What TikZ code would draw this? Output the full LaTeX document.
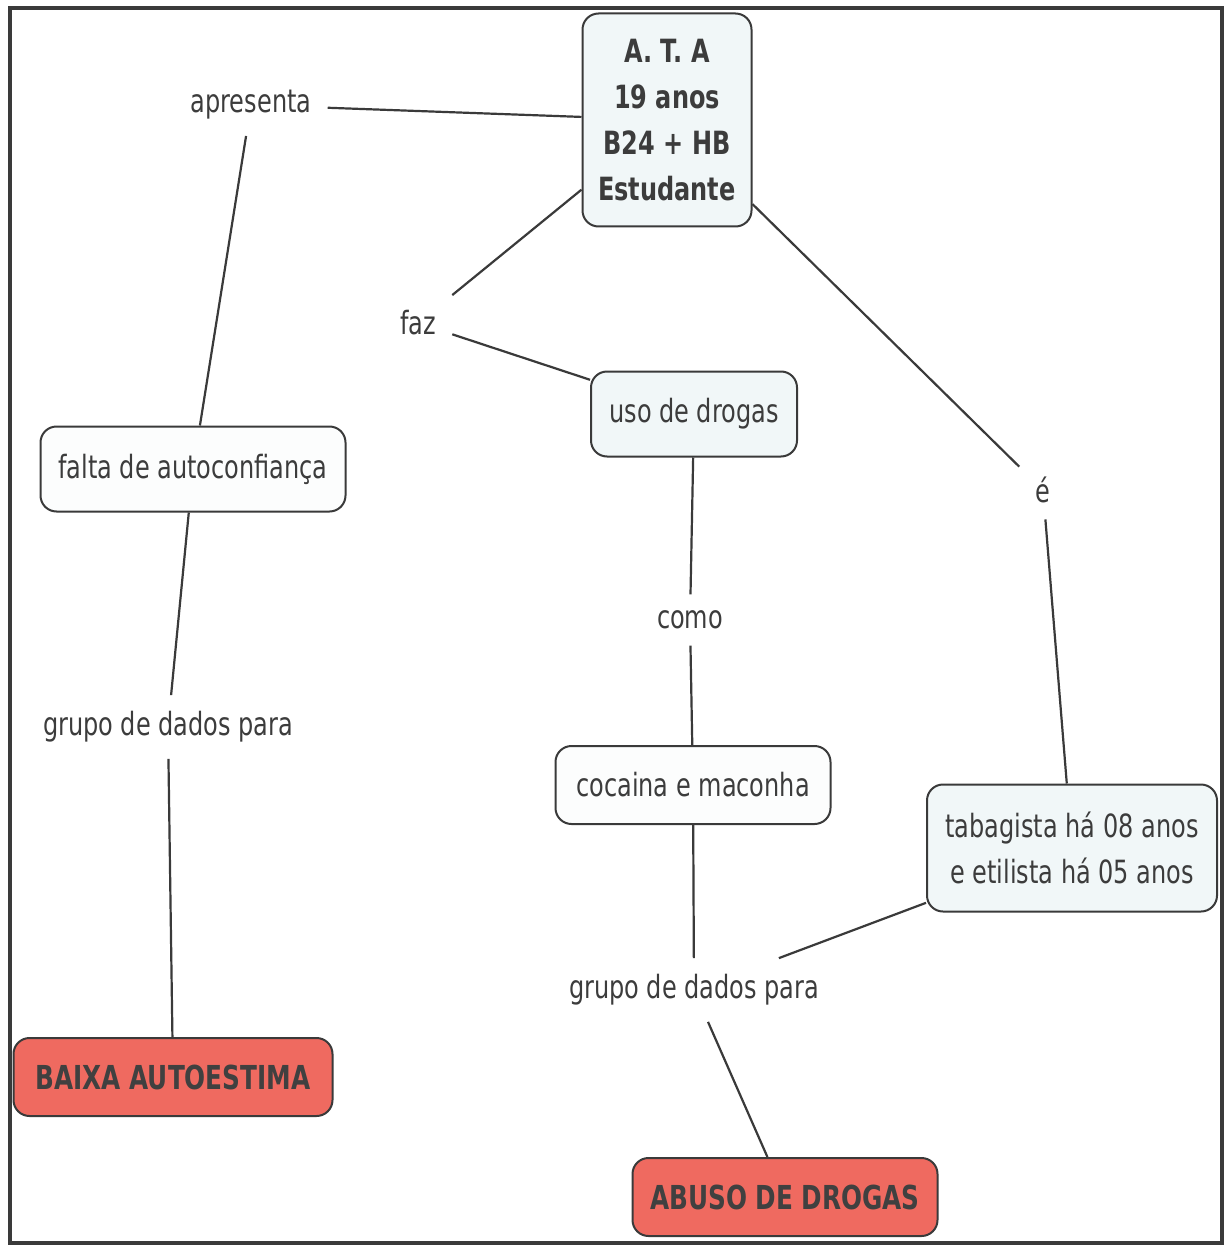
\documentclass[tikz,border=0pt]{standalone}
\usepackage{fontspec}
\setmainfont{DejaVu Sans}[FakeStretch=0.75]
\definecolor{txt}{HTML}{3C3C3C}
\definecolor{lin}{HTML}{3A3A3A}
\definecolor{cfill}{HTML}{F1F7F8}
\definecolor{wfill}{HTML}{FCFDFD}
\definecolor{rfill}{HTML}{EF6A60}
\tikzset{
  concept/.style={draw=lin, line width=1pt, rounded corners=8pt, fill=cfill, text=txt, align=center, inner sep=0pt},
  wconcept/.style={concept, fill=wfill},
  redbox/.style={concept, fill=rfill, font=\bfseries\fontsize{16.5}{23}\selectfont, text=black!75},
  lbl/.style={text=txt, inner sep=8pt},
  conn/.style={draw=lin, line width=1.1pt}
}
\begin{document}
\begin{tikzpicture}[x=0.5pt, y=-0.5pt, font=\fontsize{16}{23}\selectfont]
\useasboundingbox (0,0) rectangle (1227,1246);
\fill[white] (0,0) rectangle (1227,1246);
\draw[lin, line width=1.6pt] (10,8) rectangle (1222,1243);

\node[concept, minimum width=84.5pt, minimum height=106.5pt, font=\bfseries\fontsize{16}{23}\selectfont] (ata) at (667,120) {A. T. A\\19 anos\\B24 + HB\\Estudante};
\node[concept, minimum width=103pt, minimum height=42.5pt] (uso) at (694,414) {uso de drogas};
\node[wconcept, minimum width=152.5pt, minimum height=42.5pt] (falta) at (193,469) {falta de autoconfiança};
\node[wconcept, minimum width=137.5pt, minimum height=39pt] (coca) at (693,785) {cocaina e maconha};
\node[concept, minimum width=145pt, minimum height=63.5pt] (taba) at (1072,848) {tabagista há 08 anos\\e etilista há 05 anos};
\node[redbox, minimum width=159.5pt, minimum height=39pt] (baixa) at (173,1077) {BAIXA AUTOESTIMA};
\node[redbox, minimum width=152.5pt, minimum height=39pt] (abuso) at (785,1197) {ABUSO DE DROGAS};

\node[lbl] (apr) at (251,105) {apresenta};
\node[lbl] (faz) at (418,323) {faz};
\node[lbl] (e) at (1043,490) {é};
\node[lbl] (como) at (690,620) {como};
\node[lbl] (g1) at (168,727) {grupo de dados para};
\node[lbl] (g2) at (694,990) {grupo de dados para};

\draw[conn] (apr) -- (ata);
\draw[conn] (apr) -- (falta);
\draw[conn] (ata) -- (faz);
\draw[conn] (faz) -- (uso);
\draw[conn] (ata) -- (e);
\draw[conn] (e) -- (taba);
\draw[conn] (uso) -- (como);
\draw[conn] (como) -- (coca);
\draw[conn] (falta) -- (g1);
\draw[conn] (g1) -- (baixa);
\draw[conn] (coca) -- (g2);
\draw[conn] (taba) -- (g2);
\draw[conn] (g2) -- (abuso);
\end{tikzpicture}
\end{document}
